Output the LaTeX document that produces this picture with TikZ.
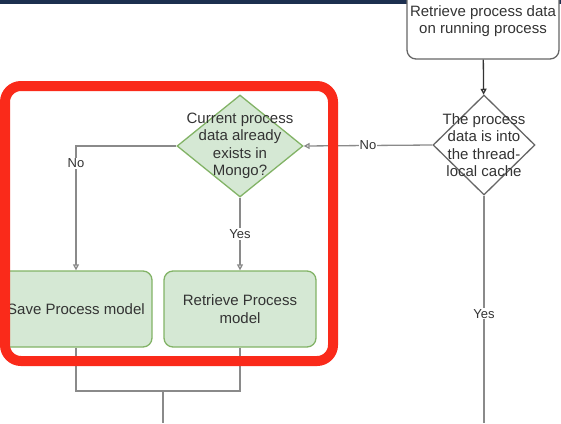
\documentclass[tikz,border=0pt]{standalone}
\usepackage{fontspec}
\setmainfont{Liberation Sans}
\usetikzlibrary{shapes.geometric,arrows.meta}
\definecolor{boxfill}{HTML}{D5E8D4}
\definecolor{boxline}{HTML}{82B366}
\definecolor{wire}{HTML}{8A8A8A}
\definecolor{ink}{HTML}{333333}
\definecolor{frame}{HTML}{666666}
\definecolor{topbar}{HTML}{1C2F4F}
\definecolor{hilite}{HTML}{FA2A1A}
\tikzset{
 proc/.style={draw=boxline, fill=boxfill, line width=1.3, rounded corners=9,
   minimum width=152, minimum height=76, inner sep=0, align=center,
   text=ink, font=\fontsize{15}{17.5}\selectfont},
 plain/.style={proc, draw=frame, fill=white},
 decision/.style={diamond, draw=boxline, fill=boxfill, line width=1.3,
   minimum width=126, minimum height=102, inner sep=0},
 ask/.style={align=center, text=ink, inner sep=0,
   font=\fontsize{15}{17.5}\selectfont},
 lbl/.style={fill=white, text=ink, inner sep=1,
   font=\fontsize{13}{15}\selectfont},
 wire/.style={draw=wire, line width=1.3},
 flow/.style={wire, -{Triangle[open, length=6pt, width=6pt]}},
}

\begin{document}
\begin{tikzpicture}[x=1pt, y=-1pt]
        \useasboundingbox (0,0) rectangle (561,423);
        \fill [topbar] (0,0) rectangle (561,4);

        \node [plain] (running) at (483,21) {Retrieve process data\\on running process};
        \node [decision, draw=frame, fill=white, minimum width=102, minimum height=100] (cache) at (484,145) {};
        \node [ask] (cachetext) at (cache) {The process\\data is into\\the thread-\\local cache};
        \node [decision] (mongo) at (240,146) {};
        \node [ask] (mongotext) at (mongo) {Current process\\data already\\exists in\\Mongo?};
        \node [proc] (save) at (76,309) {Save Process model};
        \node [proc] (fetch) at (240,309) {Retrieve Process\\model};

        \coordinate (join) at (163,391);
        \coordinate (joinend) at (163,423);
        \coordinate (cacheend) at (484,423);

        \draw [flow, draw=ink] (running) -- (cache);
        \draw [flow] (cache.west) -- node [lbl] (nocache) {No} (mongo.east);
        \draw [flow] (mongo.west) -| node [lbl, pos=0.57] (nomongo) {No} (save.north);
        \draw [flow] (mongo.south) -- node [lbl] (yesmongo) {Yes} (fetch.north);
        \draw [wire] (cache.south) -- node [lbl, pos=0.52] (yescache) {Yes} (cacheend);
        \draw [wire] (save.south) |- (join) -| (fetch.south);
        \draw [wire] (join) -- (joinend);

        \draw [hilite, line width=10, rounded corners=16] (5,86) rectangle (333,361);
    \end{tikzpicture}
\end{document}
